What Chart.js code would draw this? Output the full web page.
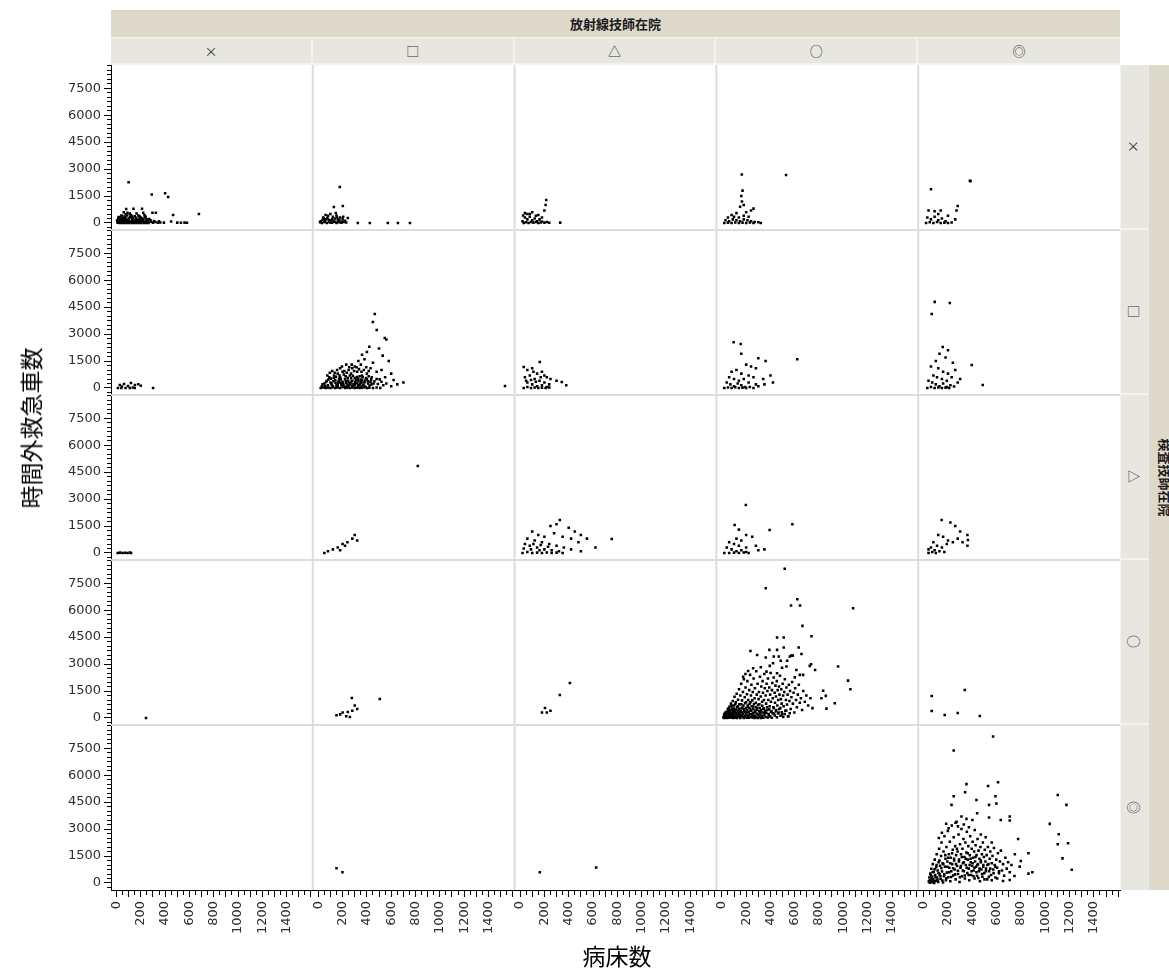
<!DOCTYPE html>
<html lang="ja">
<head>
<meta charset="utf-8">
<title>病床数と時間外救急車数</title>
<script src="https://cdn.jsdelivr.net/npm/chart.js@4.4.1/dist/chart.umd.min.js"></script>
<style>
  html, body { margin:0; padding:0; background:#ffffff; }
  #wrap { position:relative; width:1169px; height:974px; overflow:hidden; }
  #plot { position:absolute; left:0; top:0; }
  .band { position:absolute; box-sizing:border-box; display:flex; align-items:center; justify-content:center;
          color:#1a1a1a; font-family:"Noto Sans CJK JP", sans-serif; white-space:nowrap; overflow:hidden; }
  .dark { background:#dcd9cb; }
  .light { background:#e8e7df; }
  .rot { display:inline-block; transform:rotate(90deg); }
  .title { position:absolute; font-family:"Noto Sans CJK JP", sans-serif; font-size:23px; color:#000; white-space:nowrap; }
</style>
</head>
<body>
<div id="wrap">
  <canvas id="plot" width="1169" height="974"></canvas>
</div>
<script>
// Facet titles and level labels
const colFacetTitle = '放射線技師在院';
const rowFacetTitle = '検査技師在院';
const colLabels = ['×', '□', '△', '○', '◎'];
const rowLabels = ['×', '□', '△', '○', '◎'];
const xTitle = '病床数';
const yTitle = '時間外救急車数';
const xTickLabels = [0, 200, 400, 600, 800, 1000, 1200, 1400];
const yTickLabels = [0, 1500, 3000, 4500, 6000, 7500];

// Points per panel: [病床数, 時間外救急車数]; cell_r_c = row level r, column level c
const cell_0_0 = [[100,2270],[290,1580],[400,1650],[425,1450],[80,780],[140,790],[210,790],[90,575],[60,600],[220,575],[296,575],[324,575],[466,445],[678,500],[120,450],[150,380],[180,420],[200,300],[240,350],[30,300],[50,200],[70,350],[100,250],[130,150],[160,200],[190,120],[220,180],[250,100],[270,220],[20,100],[40,50],[60,120],[80,30],[110,60],[140,20],[170,80],[200,40],[230,20],[260,60],[10,20],[300,20],[320,60],[340,10],[360,30],[390,20],[450,80],[500,20],[530,10],[560,20],[580,10],[280,150],[40,420],[75,480],[110,520],[165,530],[230,450],[5,150],[15,250],[25,0],[45,0],[65,0],[85,0],[105,0],[125,0],[145,0],[165,0],[185,0],[205,0],[225,0],[245,0],[265,0],[95,130],[115,300],[135,280],[155,90],[175,160],[195,230],[215,90],[35,180],[55,280],[75,200],[12,60],[22,160],[32,40],[42,230],[52,110],[62,20],[72,270],[82,140],[92,50],[102,190],[112,340],[122,90],[132,230],[142,120],[152,40],[162,290],[172,190],[182,60],[192,330],[202,150],[212,250],[222,70],[232,300],[242,140],[252,40],[262,170],[18,330],[48,390],[88,420],[128,360],[188,370],[8,80],[28,130],[58,170],[98,70],[148,150],[208,110],[248,200],[285,70],[310,110],[350,90]];
const cell_0_1 = [[177,2005],[128,890],[202,947],[144,557],[243,278],[325,0],[424,0],[572,0],[655,0],[754,0],[20,100],[40,300],[60,200],[80,400],[100,150],[120,350],[140,250],[160,100],[180,300],[200,200],[220,120],[30,0],[50,50],[70,0],[90,80],[110,20],[130,60],[150,0],[170,40],[190,10],[210,60],[230,30],[60,450],[100,500],[150,420],[45,250],[85,180],[125,120],[165,200],[205,350],[15,40],[35,170],[55,90],[75,260],[95,30],[115,200],[135,70],[155,310],[175,140],[195,60]];
const cell_0_2 = [[215,1280],[210,1000],[200,700],[100,600],[60,500],[150,450],[180,300],[330,20],[20,100],[40,300],[60,200],[80,350],[100,150],[120,250],[140,100],[160,200],[180,80],[30,0],[50,40],[70,0],[90,60],[110,20],[130,50],[150,0],[170,30],[200,20],[220,60],[240,10],[40,550],[80,500],[130,400],[25,420]];
const cell_0_3 = [[164,2700],[528,2670],[170,1800],[160,1500],[165,1200],[180,1000],[150,900],[240,700],[260,800],[200,600],[120,550],[80,450],[50,300],[100,350],[140,300],[180,400],[220,350],[30,150],[60,100],[90,200],[120,150],[150,100],[180,200],[210,150],[240,100],[270,50],[20,0],[50,20],[80,0],[110,30],[140,0],[170,20],[200,0],[230,30],[260,0],[300,40],[320,0]];
const cell_0_4 = [[60,1880],[380,2350],[385,2330],[280,950],[270,700],[140,700],[90,650],[40,700],[120,500],[200,400],[30,300],[60,200],[90,350],[120,150],[150,250],[180,100],[20,0],[50,40],[80,0],[110,60],[140,0],[170,20],[200,0],[230,30],[260,200]];

const cell_1_0 = [[28,167],[62,222],[95,111],[119,278],[152,167],[12,0],[40,0],[75,0],[110,0],[135,30],[301,0],[180,210],[200,120],[150,0],[45,80]];
const cell_1_1 = [[465,4120],[449,3675],[481,3230],[547,2785],[560,2700],[420,2300],[400,2000],[360,1850],[500,2200],[530,1800],[580,1500],[620,450],[700,300],[1536,111],[450,1400],[380,1600],[330,1500],[300,1200],[350,1300],[280,1100],[430,1100],[480,900],[520,1000],[600,800],[550,600],[650,200],[250,1000],[200,900],[160,800],[180,1100],[230,1300],[270,800],[320,900],[360,700],[400,800],[440,600],[480,500],[520,350],[560,250],[600,100],[60,50],[80,150],[100,300],[120,100],[140,450],[160,200],[180,600],[200,350],[220,500],[240,150],[260,700],[280,400],[300,550],[320,250],[340,650],[360,450],[380,300],[400,500],[70,400],[90,600],[110,250],[130,700],[150,50],[170,400],[190,150],[210,750],[230,50],[250,300],[270,550],[290,200],[310,450],[330,100],[350,350],[370,150],[390,50],[410,250],[430,350],[50,250],[30,100],[20,0],[40,30],[60,0],[80,20],[100,0],[120,40],[140,0],[160,30],[180,0],[200,50],[220,0],[240,20],[260,0],[280,30],[300,0],[320,20],[340,0],[360,10],[380,40],[400,0],[420,20],[450,0],[480,30],[510,0],[105,520],[125,380],[145,620],[165,350],[185,480],[205,220],[225,650],[245,420],[265,250],[285,680],[305,330],[325,520],[345,220],[365,600],[385,420],[415,650],[435,480],[455,250],[75,700],[95,850],[115,950],[135,850],[155,1000],[175,700],[195,1200],[215,950],[235,850],[255,1150],[275,1300],[295,950],[315,1150],[335,1050],[355,900],[375,1000],[395,1150],[415,950],[150,150],[200,250],[250,120],[300,150],[350,80],[180,300],[230,280],[280,120],[330,380],[35,210],[55,130],[65,330],[85,480],[112,170],[128,560],[142,290],[158,110],[172,530],[188,260],[212,130],[226,380],[242,570],[258,190],[272,340],[288,90],[302,260],[318,610],[332,170],[348,470],[362,300],[378,130],[392,560],[408,380],[422,140],[438,200],[462,380],[490,220],[505,480],[535,150]];
const cell_1_2 = [[162,1450],[30,1170],[60,1000],[100,1100],[140,800],[180,900],[220,600],[250,500],[300,400],[343,334],[380,150],[40,600],[80,700],[120,500],[160,400],[200,300],[240,200],[60,300],[100,200],[140,100],[180,150],[220,50],[30,0],[60,50],[90,0],[120,30],[150,0],[180,20],[210,0],[240,30],[50,400],[90,450],[130,350],[170,600],[200,700],[110,900]];
const cell_1_3 = [[97,2550],[155,2450],[160,1900],[300,1650],[360,1500],[620,1600],[240,1200],[280,1100],[200,1300],[120,1000],[80,900],[160,800],[220,700],[260,600],[340,500],[400,700],[60,600],[100,500],[140,400],[180,500],[220,300],[280,200],[40,300],[70,200],[100,100],[130,250],[160,150],[190,50],[20,0],[50,30],[80,0],[110,40],[140,0],[170,20],[200,0],[230,50],[260,0],[300,100],[350,200],[420,300]];
const cell_1_4 = [[91,4790],[215,4730],[66,4120],[157,2280],[200,2100],[130,1900],[180,1700],[100,1500],[395,1280],[486,167],[240,1400],[260,1000],[60,1200],[120,1100],[160,900],[200,800],[80,700],[110,600],[150,500],[190,400],[230,600],[280,300],[40,400],[70,300],[100,200],[130,100],[160,250],[190,50],[220,150],[30,0],[60,50],[90,0],[120,30],[150,0],[180,20],[210,0],[250,80],[300,500]];

const cell_2_0 = [[10,0],[30,20],[50,0],[70,10],[90,0],[110,20],[120,0]];
const cell_2_1 = [[819,4845],[300,1000],[280,800],[240,600],[200,500],[320,700],[160,300],[120,200],[80,100],[50,0],[180,150],[220,400]];
const cell_2_2 = [[327,1840],[754,780],[300,1600],[250,1500],[400,1400],[450,1200],[500,1000],[550,800],[620,300],[100,1200],[150,1000],[200,900],[280,1100],[350,900],[420,800],[480,600],[60,800],[120,700],[180,600],[240,500],[300,400],[360,300],[420,200],[500,100],[40,500],[80,400],[140,300],[200,200],[260,150],[320,100],[20,0],[60,50],[100,0],[140,20],[180,0],[220,30],[260,0],[300,20],[350,0],[30,250],[90,200],[160,150],[230,350],[110,500],[170,450]];
const cell_2_3 = [[197,2670],[105,1560],[140,1300],[393,1280],[580,1600],[200,1000],[250,900],[120,800],[160,700],[60,600],[100,500],[140,400],[200,300],[280,400],[40,300],[80,200],[120,100],[160,150],[200,50],[20,0],[60,0],[100,20],[140,0],[180,30],[220,0],[300,150],[350,200]];
const cell_2_4 = [[148,1840],[220,1700],[260,1500],[300,1200],[360,1000],[364,724],[120,1000],[160,900],[200,700],[240,600],[80,600],[110,400],[150,300],[190,500],[60,300],[90,150],[130,100],[170,50],[40,0],[70,50],[100,0],[280,800],[320,600],[360,400],[40,200]];

const cell_3_0 = [[243,0]];
const cell_3_1 = [[243,334],[276,1114],[506,1058],[300,700],[320,500],[200,300],[180,200],[230,100],[280,400],[150,150],[260,50]];
const cell_3_2 = [[410,1950],[327,1280],[205,557],[180,300],[220,300],[250,400]];
const cell_3_3 = [[517,8300],[361,7220],[621,6610],[569,6260],[643,6260],[1080,6110],[663,5125],[454,4475],[509,4475],[737,4550],[235,3730],[391,3790],[454,3790],[509,3920],[632,3920],[290,3510],[361,3360],[427,3420],[468,3420],[572,3470],[583,3470],[655,3565],[956,2860],[734,2990],[723,2900],[767,2670],[1038,2080],[1057,1600],[833,1520],[855,1230],[819,1100],[929,820],[860,520],[484,3190],[537,3180],[559,3420],
  [320,2820],[394,2900],[421,3045],[495,2800],[531,2860],[216,2620],[257,2770],[367,2580],[454,2490],[613,2670],[641,2400],[600,2260],[668,2400],[175,2300],[194,2450],
  [14,60],[19,210],[23,35],[28,140],[33,330],[37,15],[41,95],[46,260],[49,480],[53,170],[57,30],[61,390],[64,640],[68,120],[72,290],[75,800],[79,55],[83,520],[86,210],[90,950],[93,360],[97,90],[101,700],[104,1180],[108,440],[112,20],[115,880],[119,260],[122,1350],[126,600],[130,150],[133,1020],[137,420],[141,1600],[144,760],[148,60],[152,1250],[155,330],[159,1900],[162,540],[166,980],[170,190],[173,1450],[177,700],[181,2150],[184,410],[188,1150],[192,80],[195,1700],[199,880],[203,300],[206,1320],[210,2050],[214,620],[217,1000],[221,170],[225,1550],[228,790],[232,2400],[236,460],[239,1250],[243,1850],[247,240],[250,980],[254,1450],[258,640],[261,2200],[265,110],[269,1100],[272,1650],[276,420],[280,850],[283,2600],[287,1300],[291,560],[294,1900],[298,190],[302,1050],[305,1450],[309,760],[313,2300],[316,350],[320,1200],[324,1750],[327,50],[331,900],[335,2050],[338,1400],[342,520],[346,1000],[349,2450],[353,1650],[357,280],[360,1250],[364,800],[368,1900],[371,450],[375,1500],[379,2200],[382,1000],[386,150],[390,1700],[393,650],[397,1300],[401,2500],[404,900],[408,380],[412,1550],[415,1950],[419,1100],[423,600],[426,2250],[430,250],[434,1400],[437,850],[441,1800],[445,1200],[448,450],[452,2050],[456,700],[459,1550],[463,1000],[467,300],[470,1750],[474,1300],[478,2350],[481,550],[485,1050],[489,1600],[492,800],[496,200],[500,1900],[504,1250],[508,650],[513,1450],[518,2150],[522,400],[527,1000],[531,1700],[536,750],[541,1300],[546,100],[551,1850],[556,950],[561,1500],[566,500],[572,1150],[578,2000],[584,800],[590,1400],[596,300],[603,1650],[610,1000],[617,600],[625,1300],[633,1850],[641,850],[650,1100],[660,450],[670,1500],[682,900],[695,1250],[710,700],[728,1100],[745,550],
  [16,0],[21,120],[26,280],[31,40],[35,190],[39,0],[44,350],[48,80],[52,230],[56,560],[60,10],[63,300],[67,170],[71,450],[74,30],[78,240],[82,680],[85,110],[89,400],[92,0],[96,290],[100,520],[103,150],[107,330],[111,780],[114,60],[118,470],[121,200],[125,0],[129,360],[132,650],[136,90],[140,270],[143,510],[147,180],[151,0],[154,420],[158,760],[161,110],[165,310],[169,580],[172,40],[176,230],[180,480],[183,0],[187,350],[191,820],[194,140],[198,560],[202,250],[205,20],[209,450],[213,700],[216,90],[220,330],[224,10],[227,560],[231,210],[235,880],[238,60],[242,400],[246,650],[249,160],[253,30],[257,500],[260,280],[264,780],[268,0],[271,350],[275,130],[279,600],[282,40],[286,250],[290,460],[294,0],[297,720],[301,160],[305,380],[309,60],[312,560],[316,230],[320,0],[324,450],[328,120],[332,680],[336,300],[340,20],[345,520],[350,180],[355,400],[360,60],[366,290],[372,600],[378,30],[384,220],[390,480],[397,90],[404,330],[411,10],[419,250],[427,550],[435,140],[444,380],[453,40],[462,250],[472,500],[482,120],[493,320],[505,60],[517,220],[530,420],[544,90],[558,260]];
const cell_3_4 = [[66,1225],[66,390],[173,167],[338,1560],[280,280],[462,110]];

const cell_4_0 = [];
const cell_4_1 = [[150,818],[199,596]];
const cell_4_2 = [[162,596],[626,863]];
const cell_4_3 = [];
const cell_4_4 = [[571,8150],[247,7370],[352,5500],[612,5610],[530,5400],[341,5050],[590,4830],[247,4830],[229,4345],[538,4345],[598,4420],[434,4620],[440,3880],[1103,4900],[1174,4345],[1037,3290],[1111,2710],[1103,2150],[1188,2210],[1142,1370],[1218,740],[311,3695],[352,3566],[401,3510],[538,3640],[634,3510],[708,3695],[708,3473],[777,2450],[862,1650],[750,1600],[799,1226],[790,910],[894,594],[862,520],[747,390],[708,167],[653,111],
  [185,3300],[205,3050],[262,3350],[282,3150],[330,3250],[372,3100],[420,2950],[470,2700],[510,2550],[560,2250],[150,2800],[125,2500],
  [42,80],[47,300],[51,20],[55,520],[59,160],[63,790],[67,40],[71,360],[75,1050],[79,200],[83,620],[87,0],[91,1300],[95,450],[99,130],[103,880],[107,1600],[111,300],[115,700],[119,60],[123,1150],[127,1900],[131,480],[135,960],[139,220],[143,1500],[147,2250],[151,640],[155,1100],[159,30],[163,1750],[167,380],[171,2600],[175,900],[179,1350],[183,150],[187,2000],[191,580],[195,1200],[199,2900],[203,320],[207,1600],[211,850],[215,2300],[219,100],[223,1400],[227,650],[231,3200],[235,1050],[239,1850],[243,420],[247,2550],[251,1250],[255,750],[259,2050],[263,200],[267,1550],[271,3400],[275,950],[279,1750],[283,500],[287,2700],[291,1300],[295,60],[299,2150],[303,850],[307,1600],[311,3000],[315,380],[319,1900],[323,1100],[327,2450],[331,650],[335,1450],[339,250],[343,2250],[347,1000],[351,1700],[355,2850],[359,550],[363,1300],[367,2050],[371,800],[375,150],[379,1550],[383,2600],[387,1150],[391,450],[395,1900],[399,950],[403,2300],[407,1400],[411,700],[415,1750],[419,250],[423,1200],[427,2100],[431,900],[435,1550],[439,400],[443,2450],[447,1050],[451,1800],[455,650],[459,1350],[463,100],[467,2000],[471,1150],[475,750],[479,1600],[483,350],[487,2250],[491,1000],[495,1450],[499,550],[503,1850],[508,1200],[513,800],[518,1550],[523,200],[528,2000],[533,1050],[538,650],[543,1350],[548,1750],[554,450],[560,1100],[566,1500],[572,750],[578,1950],[584,1000],[590,300],[597,1300],[604,850],[611,1650],[619,550],[627,1200],[635,1800],[644,700],[653,1050],[662,400],[672,1400],[683,800],[695,1150],[708,600],[722,1000],
  [50,150],[58,420],[66,250],[74,600],[82,90],[90,760],[98,320],[106,1000],[114,180],[122,560],[130,1250],[138,370],[146,820],[154,140],[162,1050],[170,480],[178,1550],[186,260],[194,900],[202,1400],[210,600],[218,1100],[226,330],[234,1650],[242,820],[250,1350],[258,480],[266,1050],[274,1900],[282,680],[290,1200],[298,320],[306,950],[314,1450],[322,700],[330,1150],[338,420],[346,1350],[354,850],[362,1650],[370,450],[378,1000],[386,1350],[394,650],[402,1100],[410,380],[418,850],[426,1450],[434,600],[442,1000],[450,280],[460,800],[470,1250],[480,500],[490,900],[500,200],[512,650],[524,1000],[536,350],[548,800],[560,150],[575,550],[590,900],[605,250],[620,650]];

const cells = [
  [cell_0_0, cell_0_1, cell_0_2, cell_0_3, cell_0_4],
  [cell_1_0, cell_1_1, cell_1_2, cell_1_3, cell_1_4],
  [cell_2_0, cell_2_1, cell_2_2, cell_2_3, cell_2_4],
  [cell_3_0, cell_3_1, cell_3_2, cell_3_3, cell_3_4],
  [cell_4_0, cell_4_1, cell_4_2, cell_4_3, cell_4_4]
];

const tickFont = { family: 'DejaVu Sans', size: 13 };
const tickColor = '#2e2e2e';

function xAxis(c) {
  return {
    type: 'linear', position: 'bottom', stack: 'cols', stackWeight: 1, weight: c,
    min: -45, max: 1615,
    afterFit: s => { s.height = 52; },
    border: { display: true, color: '#000', width: 1 },
    grid: {
      drawOnChartArea: false, drawTicks: true, tickLength: 7, tickWidth: 1,
      tickColor: '#000',
      tickBorderDash: ctx => (ctx.tick && ctx.tick.value % 100 === 0) ? [] : [4, 20]
    },
    ticks: {
      stepSize: 50, includeBounds: false, autoSkip: false, minRotation: 90, maxRotation: 90,
      padding: 4, font: tickFont, color: tickColor,
      callback: v => xTickLabels.includes(v) ? String(v) : ''
    }
  };
}
function yAxis(r) {
  return {
    type: 'linear', position: 'left', stack: 'rows', stackWeight: 1, weight: 10 - r,
    min: -390, max: 8790,
    afterFit: s => { s.width = 60; },
    border: { display: true, color: '#000', width: 1 },
    grid: {
      drawOnChartArea: false, drawTicks: true, tickLength: 7, tickWidth: 1,
      tickColor: '#000',
      tickBorderDash: ctx => (ctx.tick && ctx.tick.value % 1500 === 0) ? [] : [0, 3, 4, 0]
    },
    ticks: {
      stepSize: 250, includeBounds: false, autoSkip: false, padding: 3,
      font: tickFont, color: tickColor,
      callback: v => yTickLabels.includes(v) ? String(v) : ''
    }
  };
}

const scales = {};
colLabels.forEach((_, c) => { scales['x' + c] = xAxis(c); });
rowLabels.forEach((_, r) => { scales['y' + r] = yAxis(r); });

const datasets = [];
cells.forEach((row, r) => row.forEach((pts, c) => {
  datasets.push({
    label: rowLabels[r] + ' / ' + colLabels[c],
    data: pts.map(p => ({ x: p[0], y: p[1] })),
    xAxisID: 'x' + c, yAxisID: 'y' + r,
    pointStyle: 'rect', pointRadius: 1.8, pointHoverRadius: 1.8,
    backgroundColor: '#000', borderWidth: 0
  });
}));

// light separators between panels
const panelLines = {
  id: 'panelLines',
  beforeDatasetsDraw(chart) {
    const { ctx, chartArea } = chart;
    ctx.save();
    ctx.strokeStyle = '#dcdcdc';
    ctx.lineWidth = 2;
    for (let c = 0; c < colLabels.length - 1; c++) {
      const x = chart.scales['x' + c].right;
      ctx.beginPath(); ctx.moveTo(x, chartArea.top); ctx.lineTo(x, chartArea.bottom); ctx.stroke();
    }
    for (let r = 0; r < rowLabels.length - 1; r++) {
      const y = chart.scales['y' + r].bottom;
      ctx.beginPath(); ctx.moveTo(chartArea.left, y); ctx.lineTo(chartArea.right, y); ctx.stroke();
    }
    ctx.restore();
  }
};

const chart = new Chart(document.getElementById('plot'), {
  type: 'scatter',
  data: { datasets },
  options: {
    responsive: false, animation: false, devicePixelRatio: 1,
    layout: { padding: { left: 51, top: 65, right: 49, bottom: 32 } },
    plugins: { legend: { display: false }, tooltip: { enabled: false } },
    scales
  },
  plugins: [panelLines]
});

// facet strips and axis titles
function addBox(cls, left, top, width, height, html, style) {
  const d = document.createElement('div');
  d.className = 'band ' + cls;
  Object.assign(d.style, { left: left + 'px', top: top + 'px', width: width + 'px', height: height + 'px' }, style || {});
  d.innerHTML = html;
  document.getElementById('wrap').appendChild(d);
  return d;
}
const area = chart.chartArea;
addBox('dark', area.left, 10, area.right - area.left, 27, colFacetTitle, { fontSize: '13px', fontWeight: '700' });
colLabels.forEach((lab, c) => {
  const s = chart.scales['x' + c];
  addBox('light', s.left, 37, s.right - s.left, 28, lab, {
    fontSize: '13px', color: '#333',
    borderRight: c < colLabels.length - 1 ? '2px solid #f3f2ed' : 'none',
    borderTop: '1px solid #f3f2ed', borderBottom: '2px solid #f3f2ed'
  });
});
rowLabels.forEach((lab, r) => {
  const s = chart.scales['y' + r];
  addBox('light', area.right, s.top, 29, s.bottom - s.top, '<span class="rot">' + lab + '</span>', {
    fontSize: '13px', color: '#333',
    borderBottom: r < rowLabels.length - 1 ? '2px solid #f3f2ed' : 'none',
    borderLeft: '1px solid #f3f2ed'
  });
});
addBox('dark', area.right + 29, area.top, 32, area.bottom - area.top,
  '<span class="rot">' + rowFacetTitle + '</span>', { fontSize: '13px', fontWeight: '700', justifyContent: 'center' });

const yt = document.createElement('div');
yt.className = 'title';
yt.textContent = yTitle;
Object.assign(yt.style, { left: '30px', top: '428px', transform: 'translate(-50%, -50%) rotate(-90deg)' });
document.getElementById('wrap').appendChild(yt);

const xt = document.createElement('div');
xt.className = 'title';
xt.textContent = xTitle;
Object.assign(xt.style, { left: '617px', top: '955px', transform: 'translate(-50%, -50%)' });
document.getElementById('wrap').appendChild(xt);
</script>
</body>
</html>
